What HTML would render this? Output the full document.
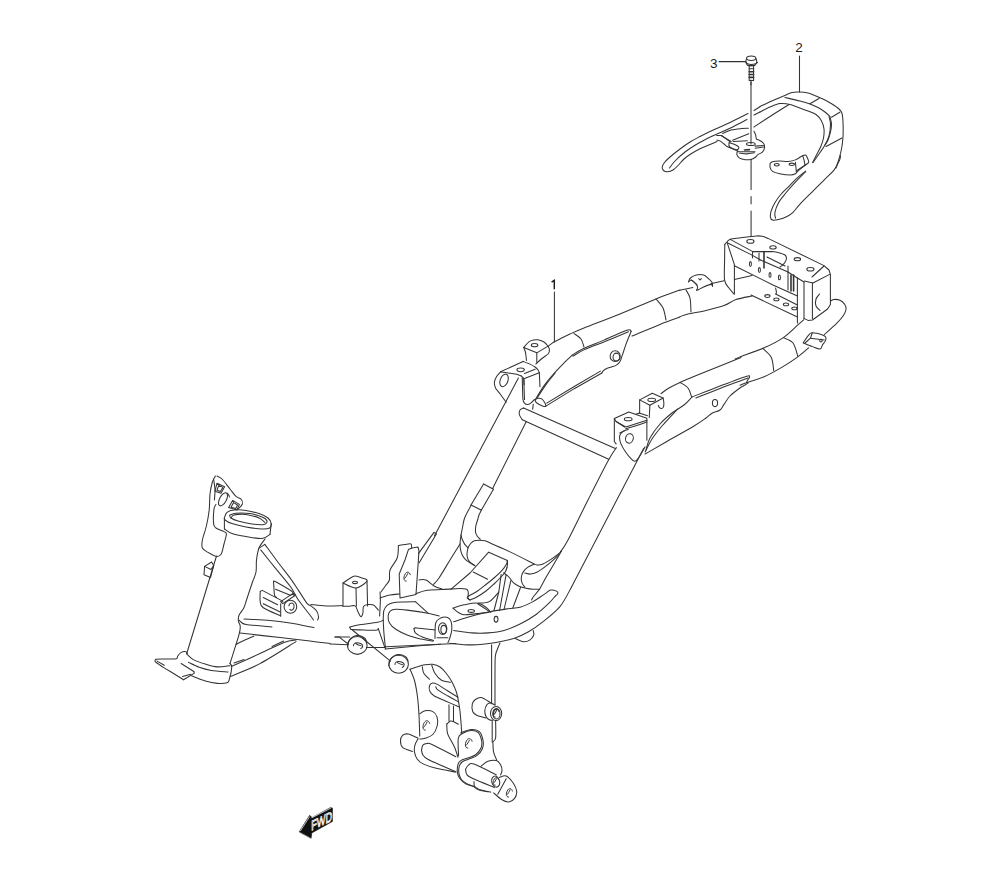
<!DOCTYPE html>
<html><head><meta charset="utf-8"><style>
html,body{margin:0;padding:0;background:#fff;}
body{width:1000px;height:880px;overflow:hidden;}
svg{display:block;}
path,ellipse{fill:none;stroke:#333;stroke-width:1.05;stroke-linejoin:round;stroke-linecap:round;}
.t{stroke-width:1.6;}
.h{stroke-width:0.8;stroke:#555;}
.f{fill:#1c1c1c;}
text{font-family:"Liberation Sans",sans-serif;fill:#1c1c1c;}
</style></head><body>
<svg width="1000" height="880" viewBox="0 0 1000 880">
<path d="M748,113.5C746.67,114.17 743,116 740,117.5C737,119 733.33,120.92 730,122.5C726.67,124.08 723.33,125.5 720,127C716.67,128.5 713.33,129.92 710,131.5C706.67,133.08 703.33,134.75 700,136.5C696.67,138.25 693.33,139.92 690,142C686.67,144.08 683.33,146.5 680,149C676.67,151.5 672.58,154.75 670,157C667.42,159.25 665.8,160.83 664.5,162.5C663.2,164.17 662.37,165.67 662.2,167C662.03,168.33 662.62,169.7 663.5,170.5C664.38,171.3 665.92,171.88 667.5,171.8C669.08,171.72 671.25,171.05 673,170C674.75,168.95 676.17,167.33 678,165.5C679.83,163.67 682,160.83 684,159C686,157.17 687.33,156.2 690,154.5C692.67,152.8 696.67,150.47 700,148.8C703.33,147.13 707.17,145.72 710,144.5C712.83,143.28 715.83,142 717,141.5"/>
<path d="M669.5,168C670.42,166.83 672.42,163.67 675,161C677.58,158.33 681.67,154.63 685,152C688.33,149.37 691.67,147.25 695,145.2C698.33,143.15 701.5,141.48 705,139.7C708.5,137.92 711.83,136.42 716,134.5C720.17,132.58 724.83,130.7 730,128.2C735.17,125.7 744.17,120.95 747,119.5"/>
<path d="M754,110.5L760,106.7"/>
<path d="M754,115L760,112"/>
<path d="M754,127C756.67,125.25 764.17,120.25 770,116.5C775.83,112.75 785.83,106.5 789,104.5"/>
<path d="M751,80L751,144"/>
<path d="M716.69,135.56C717.45,135.56 720.04,135.27 721.27,135.56C722.5,135.86 722.56,136.27 724.08,137.32C725.61,138.38 729.37,141.14 730.42,141.9"/>
<path d="M717.04,140.14C717.51,140.26 718.69,140.2 719.86,140.85C721.03,141.49 722.79,143.02 724.08,144.01C725.38,145.01 725.61,145.77 727.61,146.83C729.6,147.89 734.3,149.62 736.06,150.35C737.82,151.08 737.82,151.06 738.17,151.2"/>
<path d="M720.92,135.56L731.13,141.55"/>
<path d="M729.01,142.96C728.9,143.6 728.43,145.72 729.72,146.83C731.01,147.95 735.23,149.53 736.76,149.65C738.29,149.77 738.87,148.24 738.87,147.54C738.87,146.83 738.17,146.19 736.76,145.42C735.35,144.66 731.71,143.37 730.42,142.96C729.13,142.55 729.13,142.31 729.01,142.96Z"/>
<path d="M737.46,151.06C737.37,151.64 736.55,153.4 736.9,154.58C737.25,155.75 738.19,157.25 739.58,158.1C740.96,158.94 743.33,159.41 745.21,159.65C747.09,159.88 749.2,159.86 750.85,159.51C752.49,159.15 753.9,158.36 755.07,157.54C756.24,156.71 756.71,155.42 757.89,154.58C759.06,153.73 761.06,153.4 762.11,152.46C763.17,151.53 763.87,150.23 764.23,148.94C764.58,147.65 764.58,145.89 764.23,144.72C763.87,143.54 762.93,142.66 762.11,141.9C761.29,141.14 760.23,140.61 759.3,140.14C758.36,139.67 757.09,139.96 756.48,139.08C755.87,138.2 756.04,136.15 755.63,134.86C755.22,133.57 754.28,131.92 754.01,131.34"/>
<path d="M722.68,133.45C724.08,132.89 727.96,130.89 731.13,130.07C734.3,129.25 738.81,128.84 741.69,128.52C744.57,128.2 747.27,128.23 748.38,128.17"/>
<path d="M732.54,140.14L748.73,133.8"/>
<path d="M733.24,141.55L747.32,140.85"/>
<ellipse cx="750.85" cy="144.01" rx="4.37" ry="1.55" transform="rotate(0 750.85 144.01)"/>
<path d="M755.07,146.13L763.52,145.42"/>
<path d="M755.07,148.24L763.52,146.97"/>
<path d="M738.17,151.76L755.07,151.76"/>
<path d="M739.58,153.17C740.75,153.29 744.15,153.93 746.62,153.87C749.08,153.81 753.08,152.99 754.37,152.82"/>
<path class="t" d="M744.51,150L749.44,149.65"/>
<path d="M760,106.5C762.17,105.5 768.83,102.33 773,100.5C777.17,98.67 781.83,96.83 785,95.5C788.17,94.17 789.58,93.08 792,92.5C794.42,91.92 796.83,91.92 799.5,92C802.17,92.08 805.25,92.33 808,93C810.75,93.67 813.33,94.92 816,96C818.67,97.08 821.33,98.17 824,99.5C826.67,100.83 829.5,102.42 832,104C834.5,105.58 837.33,107.42 839,109C840.67,110.58 841.33,111.33 842,113.5C842.67,115.67 842.83,118.08 843,122C843.17,125.92 843.25,132.5 843,137C842.75,141.5 842.17,145.33 841.5,149C840.83,152.67 839.92,155.83 839,159C838.08,162.17 836.5,166.5 836,168"/>
<path d="M785,97.5C787.5,98.08 795.83,99.92 800,101C804.17,102.08 807,102.92 810,104C813,105.08 815.5,106.17 818,107.5C820.5,108.83 823,110.5 825,112C827,113.5 829.17,115.75 830,116.5"/>
<path d="M810,103.8L819,98.5"/>
<path d="M831.5,117.2L839.8,112.2"/>
<path d="M760,112C761.67,111.17 766.67,108.4 770,107C773.33,105.6 776.67,104.02 780,103.6C783.33,103.18 785.83,103.43 790,104.5C794.17,105.57 800.67,108.33 805,110C809.33,111.67 813.25,112.67 816,114.5C818.75,116.33 820.17,118.58 821.5,121C822.83,123.42 823.67,126.17 824,129C824.33,131.83 824,135.17 823.5,138C823,140.83 822.08,143.33 821,146C819.92,148.67 818.42,151.25 817,154C815.58,156.75 813.25,161.08 812.5,162.5"/>
<path d="M829,116.5C829.25,117.75 830.5,120.75 830.5,124C830.5,127.25 829.92,132.5 829,136C828.08,139.5 826.67,142 825,145C823.33,148 821,151.08 819,154C817,156.92 814,161.08 813,162.5"/>
<path d="M830,117C830.25,118.17 831.42,121.5 831.5,124C831.58,126.5 831.08,129.33 830.5,132C829.92,134.67 828.92,137.83 828,140C827.08,142.17 825.5,144.17 825,145"/>
<path d="M826,146.5L842,138"/>
<path d="M719,61.6L745.8,61.6"/>
<ellipse cx="751.2" cy="58.2" rx="4.6" ry="2.2" transform="rotate(0 751.2 58.2)"/>
<path d="M746.4,58.6C746.32,59.17 745.79,60.97 745.92,62C746.05,63.03 746.32,64.13 747.2,64.8C748.08,65.47 749.87,66 751.2,66C752.53,66 754.28,65.47 755.2,64.8C756.12,64.13 756.59,63.03 756.72,62C756.85,60.97 756.12,59.17 756,58.6"/>
<path d="M745.8,62C746.1,62.3 746.7,63.4 747.6,63.8C748.5,64.2 749.87,64.4 751.2,64.4C752.53,64.4 754.53,64.13 755.6,63.8C756.67,63.47 757.27,62.63 757.6,62.4"/>
<path d="M747.6,65.4L754.8,65.4"/>
<path d="M749.2,66L749.2,80.4L753.6,80.4L753.6,66"/>
<path d="M749.2,68.8L753.6,68.8"/>
<path class="t" d="M749.2,71.8L753.6,71.8"/>
<path class="t" d="M749.2,74.48L753.6,74.48"/>
<path class="t" d="M749.2,77.4L753.6,77.4"/>
<path d="M751,82L751,85"/>
<path d="M799.5,56L799.5,92"/>
<path d="M724.8,244.4C725.7,243.53 727.5,240.3 730.2,239.2C732.9,238.1 736.67,238.33 741,237.8C745.33,237.27 752.67,236.27 756.2,236C759.73,235.73 760.23,235.8 762.2,236.2C764.17,236.6 767.03,238.03 768,238.4"/>
<path d="M768,238.4L824,265.6L829,270L830.4,274.4L830.4,304.4L827.6,309L818,316L812.4,320L808,320.4L804,318.4"/>
<path d="M730.2,239.4L752.8,251.6L772.4,251.6"/>
<path d="M727.2,242.8L752.6,255.4L761,260.2"/>
<path d="M761,260.2L788,272"/>
<path d="M724.8,244.4C724.77,247 724.63,254.03 724.6,260C724.57,265.97 723.87,275.53 724.6,280.2C725.33,284.87 727.43,285.7 729,288C730.57,290.3 733.17,293 734,294"/>
<path d="M727.2,242.8L734.4,264.6L734.4,294"/>
<path d="M734.4,265.8L773,285L797.4,296"/>
<path d="M734.4,279.6L752,275.4"/>
<path d="M752.6,251.6C752.57,252.17 752.4,253.93 752.4,255C752.4,256.07 752.57,257.5 752.6,258"/>
<path d="M771,251.4C772.17,251.57 775.67,251.8 778,252.4C780.33,253 783.6,253.9 785,255C786.4,256.1 786.57,257.57 786.4,259C786.23,260.43 785.07,262.27 784,263.6C782.93,264.93 780.67,266.43 780,267"/>
<path d="M759,253L759,261"/>
<path class="t" d="M764,252.4L764,268"/>
<path d="M767,257L785,266"/>
<path d="M788,266L788,290"/>
<path class="t" d="M791,275L791,291"/>
<path class="t" d="M793.6,275L793.6,291"/>
<path d="M797.4,278L797.4,323"/>
<path d="M804,282L804,318.4"/>
<path d="M812.4,283L812.4,318.4"/>
<path d="M804.4,281L813,283L829.6,274.4"/>
<path d="M797.4,278L804,282"/>
<path d="M788,272L797.4,278"/>
<path d="M751,295L797.4,317"/>
<path d="M775.6,294L797.4,305"/>
<path d="M775.6,288C775.73,288.67 776.33,291 776.4,292C776.47,293 776.07,293.67 776,294"/>
<path d="M812,277L824,266"/>
<ellipse cx="750.4" cy="241.4" rx="3.6" ry="1.8" transform="rotate(0 750.4 241.4)"/>
<ellipse cx="773" cy="247.4" rx="3.2" ry="1.6" transform="rotate(0 773 247.4)"/>
<ellipse cx="797.4" cy="259.2" rx="3.2" ry="1.6" transform="rotate(0 797.4 259.2)"/>
<ellipse cx="810.4" cy="269.2" rx="3.6" ry="1.8" transform="rotate(0 810.4 269.2)"/>
<ellipse cx="750.4" cy="264" rx="1" ry="2.4" transform="rotate(0 750.4 264)"/>
<ellipse cx="759.4" cy="270" rx="1" ry="2.4" transform="rotate(0 759.4 270)"/>
<ellipse cx="770" cy="275" rx="1" ry="2.4" transform="rotate(0 770 275)"/>
<ellipse cx="779.4" cy="277.4" rx="1" ry="2.4" transform="rotate(0 779.4 277.4)"/>
<ellipse cx="767.4" cy="296" rx="2.6" ry="1.4" transform="rotate(0 767.4 296)"/>
<ellipse cx="776.4" cy="299.4" rx="2.6" ry="1.4" transform="rotate(0 776.4 299.4)"/>
<ellipse cx="786" cy="304.4" rx="2.6" ry="1.4" transform="rotate(0 786 304.4)"/>
<ellipse cx="794.4" cy="308.4" rx="2.6" ry="1.4" transform="rotate(0 794.4 308.4)"/>
<path d="M819.6,294C819,294.83 816.6,297 816,299C815.4,301 815.33,304.1 816,306C816.67,307.9 819.33,309.67 820,310.4"/>
<path d="M554.4,292L554.4,342"/>
<path d="M680,290C676,291.5 666,295 656,299C646,303 632,309.17 620,314C608,318.83 592.33,324.67 584,328C575.67,331.33 574,332.17 570,334C566,335.83 562.67,337.67 560,339C557.33,340.33 555.83,340.9 554,342C552.17,343.1 549.83,345 549,345.6"/>
<path d="M680,317C676.67,318.23 668,321.23 660,324.4C652,327.57 636.67,334.07 632,336"/>
<path d="M656,299C657.17,300.5 661.33,304.5 663,308C664.67,311.5 665.5,318 666,320"/>
<path d="M574,333.6C575.17,334.5 579.33,336.77 581,339C582.67,341.23 583.5,345.67 584,347"/>
<path d="M741,357.6C737.5,359 726.83,363.27 720,366C713.17,368.73 706.67,371.27 700,374C693.33,376.73 685.17,380.07 680,382.4C674.83,384.73 672.17,386.13 669,388C665.83,389.87 662.33,392.67 661,393.6"/>
<path d="M680,382.4C681.33,383.33 686.07,385.57 688,388C689.93,390.43 691,395.5 691.6,397"/>
<path d="M645,454C645.5,453.73 644.5,454.4 648,452.4C651.5,450.4 658.33,446.4 666,442C673.67,437.6 687.33,430 694,426C700.67,422 703,420.13 706,418C709,415.87 709.67,414.53 712,413.2C714.33,411.87 718,411.47 720,410C722,408.53 722.33,406.73 724,404.4C725.67,402.07 727.33,398.73 730,396C732.67,393.27 737.5,389.83 740,388C742.5,386.17 743.67,385.83 745,385C746.33,384.17 747.5,383.33 748,383"/>
<path d="M692,397C696.67,395.17 711,389.43 720,386C729,382.57 741.07,377.93 746,376.4C750.93,374.87 749.27,376.27 749.6,376.8C749.93,377.33 748.53,378.67 748,379.6C747.47,380.53 746.67,381.93 746.4,382.4"/>
<path d="M646,450C646.67,448 647.67,442.33 650,438C652.33,433.67 656.33,428.17 660,424C663.67,419.83 668,416.17 672,413C676,409.83 680.67,407.67 684,405C687.33,402.33 690.67,398.33 692,397"/>
<path d="M696,398C700,396.4 712.67,391.23 720,388.4C727.33,385.57 735.33,382.73 740,381C744.67,379.27 746.67,378.5 748,378"/>
<path d="M645.2,452C646.33,449.83 649.2,443.33 652,439C654.8,434.67 657.73,431 662,426C666.27,421 675,411.83 677.6,409"/>
<ellipse cx="715" cy="403" rx="2.6" ry="3.6" transform="rotate(0 715 403)"/>
<path d="M686,290C686.67,291.33 689.17,294.33 690,298C690.83,301.67 690.83,309.67 691,312"/>
<path d="M735.18,358.92C735.98,358.57 735.18,358.71 740,356.87C744.82,355.02 756.87,351.04 764.1,347.83C771.33,344.62 777.75,341.41 783.37,337.59C789,333.78 794.42,327.95 797.83,324.94C801.24,321.93 802.85,320.42 803.86,319.52"/>
<path d="M740,385.18C740.8,384.88 740.8,384.78 744.82,383.37C748.84,381.97 757.87,379.46 764.1,376.75C770.32,374.04 776.55,370.42 782.17,367.11C787.79,363.8 793.41,360.08 797.83,356.87C802.25,353.65 806.87,349.34 808.67,347.83"/>
<path d="M824.34,334.58C826.35,332.77 833.17,326.95 836.39,323.73C839.6,320.52 842.01,317.71 843.61,315.3C845.22,312.89 845.82,311.08 846.02,309.28C846.22,307.47 845.82,305.96 844.82,304.46C843.82,302.95 841.81,301.08 840,300.24C838.19,299.4 835.48,299.3 833.98,299.4C832.47,299.5 831.47,300.6 830.96,300.84"/>
<path d="M762.89,348.43C764.3,349.94 769.52,353.76 771.33,357.47C773.13,361.18 773.33,368.51 773.73,370.72"/>
<path d="M783.37,337.59C784.98,338.49 790.6,339.9 793.01,343.01C795.42,346.12 797.03,354.06 797.83,356.27"/>
<path d="M803.25,342.65C804.16,341.41 807.17,336.83 808.67,335.18C810.18,333.53 809.88,332.77 812.29,332.77C814.7,332.77 820.88,334.44 823.13,335.18C825.38,335.92 825.38,336.33 825.78,337.23C826.18,338.13 826.08,339.34 825.54,340.6C825,341.87 823.43,343.41 822.53,344.82C821.63,346.22 821.83,348.73 820.12,349.04C818.41,349.34 815.1,347.63 812.29,346.63C809.48,345.62 804.76,343.61 803.25,343.01"/>
<path d="M812.29,332.77L810.48,338.19L805.06,343.01"/>
<path d="M810.48,338.19L824.34,340"/>
<ellipse cx="820.96" cy="340.6" rx="1.2" ry="1.45" transform="rotate(0 820.96 340.6)"/>
<path d="M224.4,517.6C224.83,516.73 225.4,513.67 227,512.4C228.6,511.13 230.83,510.33 234,510C237.17,509.67 241.83,509.8 246,510.4C250.17,511 255.33,512.33 259,513.6C262.67,514.87 265.97,516.33 268,518C270.03,519.67 270.93,521.93 271.2,523.6C271.47,525.27 271.13,527.1 269.6,528C268.07,528.9 265.93,529.17 262,529C258.07,528.83 251,527.9 246,527C241,526.1 235.5,524.77 232,523.6C228.5,522.43 226.27,521 225,520C223.73,519 224.5,518 224.4,517.6"/>
<path d="M229.6,515.2C230.67,514.87 232.6,513.47 236,513.2C239.4,512.93 245.67,512.97 250,513.6C254.33,514.23 259.17,515.77 262,517C264.83,518.23 266.67,519.77 267,521C267.33,522.23 266.5,523.9 264,524.4C261.5,524.9 256.33,524.57 252,524C247.67,523.43 241.5,522 238,521C234.5,520 232.4,518.97 231,518C229.6,517.03 229.83,515.67 229.6,515.2"/>
<path d="M231,518C231.5,517.5 231.5,515.6 234,515C236.5,514.4 241.83,513.9 246,514.4C250.17,514.9 255.83,516.67 259,518C262.17,519.33 264,521.67 265,522.4"/>
<path d="M224.4,518L224.4,529"/>
<path d="M271.2,523.6L270,534.4"/>
<path d="M224.4,529C225.67,529.77 228.4,532.33 232,533.6C235.6,534.87 241,535.8 246,536.6C251,537.4 258,538.77 262,538.4C266,538.03 268.67,535.07 270,534.4"/>
<path d="M215.4,476C214.9,477 213.3,479 212.4,482C211.5,485 210.53,489.33 210,494C209.47,498.67 209.8,504.67 209.2,510C208.6,515.33 207.53,521 206.4,526C205.27,531 203.07,536.33 202.4,540C201.73,543.67 201.47,545.93 202.4,548C203.33,550.07 205.67,551 208,552.4C210.33,553.8 214.2,556.13 216.4,556.4C218.6,556.67 219.93,556.07 221.2,554C222.47,551.93 223.13,547.33 224,544C224.87,540.67 226.4,536.07 226.4,534C226.4,531.93 225.73,532.6 224,531.6C222.27,530.6 217.73,529.33 216,528C214.27,526.67 213.93,526.77 213.6,523.6C213.27,520.43 213.6,512.2 214,509C214.4,505.8 215.67,505.17 216,504.4"/>
<path d="M217,476C217.83,476.5 219.83,476.83 222,479C224.17,481.17 227.67,486.1 230,489C232.33,491.9 234.17,494.73 236,496.4C237.83,498.07 239.93,497.73 241,499C242.07,500.27 242.9,502.33 242.4,504C241.9,505.67 238.73,508.17 238,509"/>
<path d="M213.6,479C213.83,480.83 214.87,486.5 215,490C215.13,493.5 214.5,498.33 214.4,500"/>
<path d="M244,619C248.33,619.23 262.33,619.73 270,620.4C277.67,621.07 282.67,621.8 290,623C297.33,624.2 310,626.83 314,627.6"/>
<path d="M311,604.4C313.5,604.67 320.77,605.8 326,606C331.23,606.2 339.67,605.67 342.4,605.6"/>
<path d="M483.6,484L493,489"/>
<path d="M483.6,484L471,505"/>
<path d="M471,505L481,510"/>
<path d="M460,544C458.33,546.67 453.5,554.33 450,560C446.5,565.67 441.73,573.93 439,578C436.27,582.07 434.5,583.33 433.6,584.4"/>
<path d="M398.4,545.6C399.5,545.4 402.9,544.67 405,544.4C407.1,544.13 409.9,543.4 411,544C412.1,544.6 411.5,547.33 411.6,548"/>
<path d="M398.4,545.6C398.2,547.67 398.6,553.93 397.2,558C395.8,562.07 391.3,566.33 390,570C388.7,573.67 390.07,577.5 389.4,580C388.73,582.5 387.4,583 386,585C384.6,587 381.83,590.83 381,592"/>
<path d="M399.2,574L400,598L416,594.4L419,551L418,547L412,548L408.4,549.6L405,560L399.2,574"/>
<path d="M343,583C344,582.33 347,580.17 349,579C351,577.83 352.83,576.17 355,576C357.17,575.83 360,577.17 362,578C364,578.83 368,579.33 367,581C366,582.67 360,587.67 356,588C352,588.33 345.17,583.83 343,583"/>
<path d="M343,583L343,605.6"/>
<path d="M356,588L356.4,606"/>
<path d="M367,581L367.6,606"/>
<ellipse cx="355" cy="582.4" rx="2.4" ry="1.2" transform="rotate(0 355 582.4)"/>
<path d="M380,592C380.07,593.33 380.47,596 380.4,600C380.33,604 379.73,613.33 379.6,616"/>
<path d="M380,598C381.67,597.5 386.73,595.67 390,595C393.27,594.33 398,594.17 399.6,594"/>
<path d="M416,593.6C417.67,593.07 421.67,591.07 426,590.4C430.33,589.73 435.33,589.83 442,589.6C448.67,589.37 461.67,587.6 466,589C470.33,590.4 467.33,596.17 468,598C468.67,599.83 469.67,599.67 470,600"/>
<path d="M419,580C420.17,580 423.5,579 426,580C428.5,581 431.33,584.5 434,586C436.67,587.5 440.67,588.5 442,589"/>
<path d="M616.4,447.6C615,449.83 612.73,452.27 608,461C603.27,469.73 594.67,486.83 588,500C581.33,513.17 572.6,531.33 568,540C563.4,548.67 561.67,550 560.4,552"/>
<path d="M453.61,621.66C456.68,620.72 466.29,617.66 472.03,616.05C477.77,614.45 482.17,613.25 488.05,612.05C493.92,610.85 501.93,609.65 507.26,608.85C512.6,608.05 515.81,608.45 520.08,607.25C524.35,606.04 528.89,603.78 532.89,601.64C536.89,599.5 541.16,596.35 544.1,594.43C547.04,592.51 548.37,590.62 550.51,590.11C552.64,589.6 555.71,590.8 556.91,591.39C558.11,591.98 557.98,592.86 557.71,593.63C557.45,594.41 555.71,595.63 555.31,596.03"/>
<path d="M453.61,630.47C456.68,630.87 466.29,632.47 472.03,632.87C477.77,633.27 482.71,633.27 488.05,632.87C493.38,632.47 498.72,631.94 504.06,630.47C509.4,629 514.74,626.73 520.08,624.06C525.42,621.39 531.29,617.92 536.09,614.45C540.9,610.98 545.7,606.31 548.9,603.24C552.11,600.17 554.24,597.24 555.31,596.03"/>
<path d="M449.61,643.28C453.35,643.55 464.29,645.01 472.03,644.88C479.77,644.75 489.11,643.55 496.05,642.48C502.99,641.41 508.33,640.21 513.67,638.48C519.01,636.74 523.01,635.01 528.08,632.07C533.16,629.13 538.76,625.13 544.1,620.86C549.44,616.59 555.56,612.05 560.12,606.44C564.67,600.84 569.52,590.43 571.41,587.23"/>
<path d="M452.81,608.05C454.68,607.51 459.75,605.64 464.02,604.84C468.29,604.04 474.17,602.17 478.44,603.24C482.71,604.31 489.38,609.59 489.65,611.25C489.91,612.9 484.58,612.64 480.04,613.17C475.5,613.7 466.96,615.31 462.42,614.45C457.88,613.6 454.41,609.11 452.81,608.05"/>
<ellipse cx="471.23" cy="610.93" rx="3.2" ry="1.44" transform="rotate(0 471.23 610.93)"/>
<ellipse cx="496.05" cy="619.26" rx="1.92" ry="2.88" transform="rotate(0 496.05 619.26)"/>
<path d="M515.27,638.48C516.61,639.01 520.88,641.41 523.28,641.68C525.68,641.95 527.95,641.14 529.69,640.08C531.42,639.01 533.1,636.87 533.69,635.27C534.28,633.67 533.29,631.27 533.21,630.47"/>
<path d="M240,633C246.67,633.77 268.33,636.27 280,637.6C291.67,638.93 301.67,640 310,641C318.33,642 326.67,643.17 330,643.6"/>
<path d="M231.2,666.4C236,664.27 251.2,657.6 260,653.6C268.8,649.6 278,644.67 284,642.4C290,640.13 294,640.4 296,640"/>
<path d="M230.4,676.4C235.33,674.27 249.07,669.4 260,663.6C270.93,657.8 290,645.27 296,641.6"/>
<path d="M236,644.4C237.33,643.73 241,641.8 244,640.4C247,639 252.33,636.73 254,636"/>
<path d="M234,663L244,659.6"/>
<path d="M272,646.4L283.6,641"/>
<path d="M239,620C239.33,620.33 239.83,621.27 241,622C242.17,622.73 240.83,623.57 246,624.4C251.17,625.23 267.67,626.57 272,627"/>
<path d="M335,637L340,637"/>
<path d="M840.6,155.66C840.4,156.47 840.5,158.07 839.4,160.48C838.29,162.89 836.49,166.91 833.98,170.12C831.47,173.33 827.95,176.14 824.34,179.76C820.72,183.37 816.31,187.79 812.29,191.81C808.27,195.82 803.45,200.44 800.24,203.86C797.03,207.27 795.22,210.18 793.01,212.29C790.8,214.4 789.4,215.3 786.99,216.51C784.58,217.71 780.96,218.92 778.55,219.52C776.14,220.12 773.9,220.52 772.53,220.12C771.16,219.72 770.6,218.61 770.36,217.11C770.12,215.6 770.32,213.49 771.08,211.08C771.85,208.67 773.29,205.46 774.94,202.65C776.59,199.84 778.55,197.03 780.96,194.22C783.37,191.41 786.59,188.59 789.4,185.78C792.21,182.97 795.12,179.8 797.83,177.35C800.54,174.9 804.36,172.13 805.66,171.08"/>
<path d="M775.54,218.31C775.44,217.31 774.44,214.9 774.94,212.29C775.44,209.68 776.75,205.86 778.55,202.65C780.36,199.44 783.17,196.22 785.78,193.01C788.39,189.8 790.9,186.95 794.22,183.37C797.53,179.8 803.76,173.53 805.66,171.57"/>
<path d="M770.12,163.49C770.52,163.19 770.92,162.09 772.53,161.69C774.14,161.29 777.15,161.12 779.76,161.08C782.37,161.04 785.58,161.65 788.19,161.45C790.8,161.24 793.01,160.84 795.42,159.88C797.83,158.92 800.94,156.47 802.65,155.66C804.36,154.86 804.86,154.66 805.66,155.06C806.47,155.46 806.97,156.87 807.47,158.07C807.97,159.28 809.08,161.08 808.67,162.29C808.27,163.49 806.87,163.84 805.06,165.3C803.25,166.77 799.44,169.68 797.83,171.08C796.22,172.49 796.63,173.09 795.42,173.73C794.22,174.38 793.21,174.94 790.6,174.94C787.99,174.94 782.77,174.34 779.76,173.73C776.75,173.13 774.14,172.33 772.53,171.33C770.92,170.32 770.52,169.02 770.12,167.71C769.72,166.41 770.12,164.2 770.12,163.49"/>
<ellipse cx="776.75" cy="164.7" rx="2.41" ry="1.2" transform="rotate(0 776.75 164.7)"/>
<ellipse cx="791.81" cy="164.34" rx="2.65" ry="1.2" transform="rotate(0 791.81 164.34)"/>
<path d="M795.42,162.29L796.39,172.53"/>
<path d="M796.63,170.72L805.66,164.7"/>
<path d="M802.65,155.66C802.85,156.27 803.45,157.67 803.86,159.28C804.26,160.88 804.86,164.3 805.06,165.3"/>
<path d="M751.08,159.28L751.08,189.4"/>
<path d="M751.08,196.63L751.08,203.86"/>
<path d="M751.08,211.08L751.08,236.39"/>
<path d="M615.3,448.4L523.6,408"/>
<path d="M523.6,408C523,408.33 520.72,408.92 520,410C519.28,411.08 518.92,412.87 519.3,414.5C519.68,416.13 521.8,418.92 522.3,419.8"/>
<path d="M522.3,419.8L608.7,459.3"/>
<path d="M518.4,378L434.4,536"/>
<path d="M526.3,421.5L492.6,488.5"/>
<path d="M493.6,489.1L481.3,510.2"/>
<path d="M481.3,510.2C480.92,511 479.62,513.37 479,515C478.38,516.63 478.13,518.17 477.6,520C477.07,521.83 476.15,524 475.8,526C475.45,528 475.25,530.28 475.5,532C475.75,533.72 476.5,535.08 477.3,536.3C478.1,537.52 479.8,538.8 480.3,539.3"/>
<path d="M470.9,505.5C470.08,507.08 467.15,512.58 466,515C464.85,517.42 464.63,517.67 464,520C463.37,522.33 462.7,526.5 462.2,529C461.7,531.5 461.35,532.68 461,535C460.65,537.32 460.2,540.58 460.1,542.9C460,545.22 460.05,546.88 460.4,548.9C460.75,550.92 461.3,553.18 462.2,555C463.1,556.82 464.5,558.5 465.8,559.8C467.1,561.1 468.48,561.8 470,562.8C471.52,563.8 474.08,565.3 474.9,565.8"/>
<path d="M461,535C461.2,535.72 461.6,537.78 462.2,539.3C462.8,540.82 463.63,542.7 464.6,544.1C465.57,545.5 467.43,547.1 468,547.7"/>
<path d="M468,547.7C467.83,548.7 467.05,551.88 467,553.7C466.95,555.52 467.2,557.18 467.7,558.6C468.2,560.02 468.9,561.1 470,562.2C471.1,563.3 473.58,564.7 474.3,565.2"/>
<path d="M468,547.7C468.45,547 469.65,544.65 470.7,543.5C471.75,542.35 472.9,541.35 474.3,540.8C475.7,540.25 477.3,540.2 479.1,540.2C480.9,540.2 483.1,540.25 485.1,540.8C487.1,541.35 486.95,541.65 491.1,543.5C495.25,545.35 502.85,548.5 510,551.9C517.15,555.3 530,561.9 534,563.9"/>
<path d="M534,564.2C532.93,564.73 529.37,566.17 527.6,567.4C525.83,568.63 524.45,569.95 523.4,571.6C522.35,573.25 521.53,575.42 521.3,577.3C521.07,579.18 521.42,581.27 522,582.9C522.58,584.53 524.33,586.4 524.8,587.1"/>
<path d="M534,563.9C534.47,564.07 535.52,564.78 536.8,564.9C538.08,565.02 539.6,565.35 541.7,564.6C543.8,563.85 546.93,561.93 549.4,560.4C551.87,558.87 554.5,556.93 556.5,555.4C558.5,553.87 560.58,551.9 561.4,551.2"/>
<path d="M524.8,573C525.73,573.18 528.4,574.22 530.4,574.1C532.4,573.98 534.33,573.53 536.8,572.3C539.27,571.07 542.38,568.82 545.2,566.7C548.02,564.58 551.35,561.72 553.7,559.6C556.05,557.48 558.37,554.93 559.3,554"/>
<path d="M561.4,551.2L552.3,566.7L545.2,578.7L539.6,589.2L533.2,597L531.5,600"/>
<path d="M503.6,572.8C504.4,573.42 506.78,574.87 508.4,576.5C510.02,578.13 511.53,580.98 513.3,582.6C515.07,584.22 516.88,585.25 519,586.2C521.12,587.15 523.67,587.78 526,588.3C528.33,588.82 530.73,589.15 533,589.3C535.27,589.45 538.5,589.22 539.6,589.2"/>
<path d="M488.7,552.2L507.4,560.4"/>
<path d="M507.4,560.4C507.42,561 507.57,562.82 507.5,564C507.43,565.18 507.08,566.92 507,567.5"/>
<path d="M507.2,561C507.08,561.5 507.37,562.43 506.5,564C505.63,565.57 504.08,568.07 502,570.4C499.92,572.73 496.67,575.65 494,578C491.33,580.35 489,582.17 486,584.5C483,586.83 478.92,590.08 476,592C473.08,593.92 469.75,595.33 468.5,596"/>
<path d="M507,567.5C506.75,568.17 506.33,570.08 505.5,571.5C504.67,572.92 503.92,573.92 502,576C500.08,578.08 496.67,581.5 494,584C491.33,586.5 489,588.75 486,591C483,593.25 478.67,596 476,597.5C473.33,599 471,599.58 470,600"/>
<path d="M468.5,596C468.28,596.33 466.95,597.33 467.2,598C467.45,598.67 469.53,599.67 470,600"/>
<path d="M488.7,552.2L470,573L450.8,589.3"/>
<path d="M473.2,572L487.6,579.2"/>
<path d="M501.2,574.4L498.8,592L494,610.5"/>
<path d="M506,575.2L499.6,610.5"/>
<path d="M510.8,580.8L504,609.5"/>
<path d="M520.5,587.5L512.8,608"/>
<path d="M478,603.2C479.87,602.93 485.73,603.47 489.2,601.6C492.67,599.73 497.2,593.6 498.8,592"/>
<path d="M478,604L490.8,612.4"/>
<path d="M571.4,587.2L643.6,448.4"/>
<path d="M639.64,399.88L652.29,393.25L663.13,398.07L649.88,405.3Z"/>
<ellipse cx="651.69" cy="399.88" rx="3.86" ry="1.57" transform="rotate(0 651.69 399.88)"/>
<path d="M639.64,399.88L639.64,413.13"/>
<path d="M649.88,405.3L649.28,417.59"/>
<path d="M663.13,398.07C663.25,398.88 663.82,401.39 663.86,402.89C663.9,404.4 663.73,406.18 663.37,407.11C663.01,408.03 662.33,408.33 661.69,408.43C661.04,408.53 660.08,408.19 659.52,407.71C658.96,407.23 658.51,405.9 658.31,405.54"/>
<path d="M636.02,414.34L639.28,413.01"/>
<path d="M639.28,413.01L647.47,415.66"/>
<path d="M614.34,418.55L628.8,411.93L646.87,418.31L646.87,420.36L625.78,426.99L616.14,421.57L614.34,418.55"/>
<path d="M616.14,421.57L624.58,426.99"/>
<path d="M625.78,428.8C627.59,428.25 633.11,426.69 636.63,425.54C640.14,424.4 645.16,422.53 646.87,421.93"/>
<path d="M614.34,418.55L614.34,441.45L616.14,443.86"/>
<path d="M646.87,420.36L646.87,440.24"/>
<path d="M628.19,429.4C627.39,429.7 624.68,430.4 623.37,431.2C622.07,432.01 621,433.11 620.36,434.22C619.72,435.32 619.42,436.22 619.52,437.83C619.62,439.44 619.92,441.45 620.96,443.86C622.01,446.27 624.08,449.78 625.78,452.29C627.49,454.8 629.7,457.41 631.2,458.92C632.71,460.42 633.71,461.33 634.82,461.33C635.92,461.33 636.53,460.62 637.83,458.92C639.14,457.21 641.45,453.09 642.65,451.08C643.86,449.08 644.66,447.57 645.06,446.87"/>
<ellipse cx="629.4" cy="438.43" rx="3.86" ry="4.82" transform="rotate(15 629.4 438.43)"/>
<ellipse cx="628.19" cy="419.16" rx="3.86" ry="1.57" transform="rotate(0 628.19 419.16)"/>
<path d="M624.82,430.6L619.76,433.01"/>
<path d="M523.75,347.45L536.8,352.85L548.06,346.1"/>
<path d="M523.75,347.45C524.28,346.85 525.78,344.95 526.9,343.85C528.03,342.76 528.7,341.56 530.5,340.88C532.3,340.21 535.45,339.61 537.7,339.8C539.95,340 542.28,341 544.01,342.05C545.73,343.1 547.38,345.43 548.06,346.1"/>
<ellipse cx="534.55" cy="345.2" rx="3.24" ry="1.62" transform="rotate(0 534.55 345.2)"/>
<path d="M523.75,347.45C524.01,348.13 524.91,350.08 525.28,351.5C525.66,352.93 525.81,354.5 526,356C526.2,357.5 526.38,359.75 526.45,360.5"/>
<path d="M536.8,352.85L536.8,362.3"/>
<path d="M548.06,346.1C548.28,346.7 549.36,348.43 549.41,349.7C549.45,350.98 549.53,352.33 548.33,353.75C547.13,355.18 544.28,356.56 542.21,358.25C540.14,359.95 536.95,362.98 535.9,363.92"/>
<path d="M204.6,566.4L211.6,562L213.7,565.5L210.5,577.6L204,574.8Z"/>
<path d="M204.6,566.4L211,569.5L213.7,565.5"/>
<path d="M264.83,544.32C266.97,547.22 273.27,555.92 277.62,561.71C281.97,567.51 287.34,574.16 290.92,579.1C294.5,584.05 296.38,587.29 299.1,591.38C301.83,595.47 305.24,601.18 307.29,603.66C309.34,606.13 309.85,605.02 311.38,606.21C312.92,607.41 315.3,609.03 316.5,610.82C317.69,612.61 318.37,615.42 318.54,616.96C318.71,618.49 317.69,619.51 317.52,620.03"/>
<path d="M260.74,549.95C263.21,553.02 270.55,562.14 275.58,568.36C280.61,574.59 287.17,582.09 290.92,587.29C294.67,592.49 294.67,594.62 298.08,599.57C301.49,604.51 308.82,613.55 311.38,616.96C313.94,620.37 313.09,619.51 313.43,620.03"/>
<path d="M258.7,548.41L264.83,544.32"/>
<path d="M273.53,582.17C273.7,582 272.85,580.47 274.55,581.15C276.26,581.83 280.86,584.56 283.76,586.27C286.66,587.97 290.24,589.85 291.94,591.38C293.65,592.92 293.65,594.79 293.99,595.47"/>
<path d="M273.53,582.17C273.61,583.37 273.87,587.12 274.04,589.34C274.21,591.55 274.13,594.11 274.55,595.47C274.98,596.84 276.26,597.18 276.6,597.52"/>
<path d="M275.58,589.34L290.92,595.47"/>
<path d="M260.23,591.38L262.28,590.36L281.71,600.59L282.74,601.61"/>
<path d="M260.23,591.38C260.23,593.09 259.72,598.88 260.23,601.61C260.74,604.34 259.89,605.36 263.3,607.75C266.71,610.14 277.79,614.57 280.69,615.93"/>
<path d="M263.3,597.52L277.62,604.68"/>
<path d="M263.3,603.66L279.67,611.84"/>
<path d="M280.69,601.61L292.97,593.43L295.01,595.47L282.74,603.66L280.69,601.61"/>
<path d="M280.69,603.66L280.69,615.93"/>
<ellipse cx="290.41" cy="606.73" rx="6.34" ry="6.55" transform="rotate(0 290.41 606.73)"/>
<path d="M288.87,605.7C289.05,605.36 289.3,604.08 289.9,603.66C290.49,603.23 291.77,602.89 292.46,603.15C293.14,603.4 293.82,604.25 293.99,605.19C294.16,606.13 293.9,607.92 293.48,608.77C293.05,609.62 292.03,610.22 291.43,610.31C290.84,610.39 290.15,609.45 289.9,609.28"/>
<path d="M410,669.25C410.75,671.12 413.25,675.88 414.5,680.5C415.75,685.12 416.75,691.25 417.5,697C418.25,702.75 418.62,708.5 419,715C419.38,721.5 419.62,732.5 419.75,736"/>
<path d="M410,669.25C411.25,668.83 415,667.45 417.5,666.7C420,665.95 422.5,665.15 425,664.75C427.5,664.35 430,663.92 432.5,664.3C435,664.67 437.75,665.55 440,667C442.25,668.45 444,670.5 446,673C448,675.5 450.25,678.75 452,682C453.75,685.25 455.25,688.25 456.5,692.5C457.75,696.75 458.75,702.5 459.5,707.5C460.25,712.5 460.62,718.12 461,722.5C461.38,726.88 461.62,731.88 461.75,733.75"/>
<path d="M422.3,666.7C422.55,667.8 422.6,671.2 423.8,673.3C425,675.4 428.55,678.3 429.5,679.3"/>
<path d="M431.75,665.2C432.25,666.5 433.12,670.5 434.75,673C436.38,675.5 438.88,678.65 441.5,680.2C444.12,681.75 449,681.95 450.5,682.3"/>
<path d="M458.75,706.75C456.62,705.83 450.12,703.03 446,701.2C441.88,699.38 436.7,697.45 434,695.8C431.3,694.15 430.55,692.97 429.8,691.3C429.05,689.62 429.05,687.12 429.5,685.75C429.95,684.38 431.2,683.27 432.5,683.05C433.8,682.82 434.8,683.12 437.3,684.4C439.8,685.67 444.05,688.55 447.5,690.7C450.95,692.85 456.25,696.2 458,697.3"/>
<path d="M458.3,701.8C456.5,700.8 450.93,697.8 447.5,695.8C444.07,693.8 439.7,691.3 437.75,689.8C435.8,688.3 436.12,687.3 435.8,686.8"/>
<path d="M449,704.8L449,721"/>
<path d="M453.5,706L453.5,721.3"/>
<path d="M419.75,713.8C420.62,713.3 422.88,711.2 425,710.8C427.12,710.4 430.5,710.4 432.5,711.4C434.5,712.4 436.2,714.45 437,716.8C437.8,719.15 438,722.55 437.3,725.5C436.6,728.45 434.85,732.38 432.8,734.5C430.75,736.62 427.18,737.5 425,738.25C422.82,739 420.62,738.88 419.75,739"/>
<path d="M446.75,724C447.38,723.5 449.32,721.38 450.5,721C451.68,720.62 452.5,721.2 453.8,721.75C455.1,722.3 457.55,723.88 458.3,724.3"/>
<path d="M446.75,724C446.88,725.55 446.62,730.25 447.5,733.3C448.38,736.35 450.75,739.8 452,742.3C453.25,744.8 454,745.8 455,748.3C456,750.8 457.5,755.8 458,757.3"/>
<path d="M418,738.2C416.37,737.5 410.77,734.47 408.2,734C405.63,733.53 403.88,734.23 402.6,735.4C401.32,736.57 400.5,739.02 400.5,741C400.5,742.98 400.62,745.55 402.6,747.3C404.58,749.05 410.77,750.8 412.4,751.5"/>
<path d="M418,738.9C417.49,739.95 415.5,742.98 414.92,745.2C414.34,747.42 414.1,749.87 414.5,752.2C414.9,754.53 415.78,757.22 417.3,759.2C418.82,761.18 420.45,762.58 423.6,764.1C426.75,765.62 430.83,766.97 436.2,768.3C441.57,769.63 452.53,771.45 455.8,772.08"/>
<path d="M421.5,750.1C421.73,749.28 421.97,746.3 422.9,745.2C423.83,744.1 425.58,743.64 427.1,743.52C428.62,743.4 427.22,742.31 432,744.5C436.78,746.69 451.83,754.65 455.8,756.68"/>
<path d="M421.5,750.1C421.73,750.92 421.85,753.48 422.9,755C423.95,756.52 424.42,757.33 427.8,759.2C431.18,761.07 438.53,764.1 443.2,766.2C447.87,768.3 453.7,770.87 455.8,771.8"/>
<path d="M458.6,755.7C458.55,752.78 457.62,741.93 458.32,738.2C459.02,734.47 460.65,734.58 462.8,733.3C464.95,732.02 468.63,730.62 471.2,730.5C473.76,730.38 476.45,730.85 478.2,732.6C479.95,734.35 481.23,738.43 481.7,741C482.16,743.57 482,745.71 481,748C479.99,750.29 477.78,753.09 475.68,754.72C473.58,756.35 470.9,756.82 468.4,757.8C465.9,758.78 462.45,759.43 460.7,760.6C458.95,761.77 458.44,762.7 457.9,764.8C457.36,766.9 457.13,770.87 457.48,773.2C457.83,775.53 458.65,777.05 460,778.8C461.35,780.55 463.27,782.42 465.6,783.7C467.93,784.98 471.43,785.45 474,786.5C476.56,787.55 478.2,789.07 481,790C483.8,790.93 489.16,791.75 490.8,792.1"/>
<path d="M460.7,732.88C462.45,732.32 468.05,729.68 471.2,729.52C474.35,729.36 477.61,729.99 479.6,731.9C481.58,733.81 482.63,738.2 483.1,741C483.56,743.8 483.45,746.25 482.4,748.7C481.35,751.15 479.13,753.95 476.8,755.7C474.46,757.45 470.85,758.15 468.4,759.2C465.95,760.25 463.62,760.83 462.1,762C460.58,763.17 459.84,764.33 459.3,766.2C458.76,768.07 458.53,770.98 458.88,773.2C459.23,775.42 459.81,777.63 461.4,779.5C462.99,781.37 466.07,783.12 468.4,784.4C470.73,785.68 474.23,786.73 475.4,787.2"/>
<path d="M465.6,769.28C466.07,768.58 467,765.94 468.4,765.08C469.8,764.22 469.33,762.47 474,764.1C478.66,765.73 492.66,773.08 496.4,774.88"/>
<path d="M465.6,769.28C465.83,770.21 465.6,773.25 467,774.88C468.4,776.51 469.45,776.98 474,779.08C478.55,781.18 490.91,786.08 494.3,787.48"/>
<ellipse cx="495.7" cy="781.6" rx="3.92" ry="5.6" transform="rotate(-15 495.7 781.6)"/>
<path d="M474,781.6C474.11,782.53 473.76,785.75 474.7,787.2C475.63,788.65 477.38,789.53 479.6,790.28C481.81,791.03 486.6,791.45 488,791.68"/>
<path d="M481,766.2C482.16,765.38 485.43,762.23 488,761.3C490.56,760.37 494.3,760.02 496.4,760.6C498.5,761.18 499.66,763.17 500.6,764.8C501.53,766.43 502,768.72 502,770.4C502,772.08 500.83,774.13 500.6,774.88"/>
<path d="M499.2,777.4C500.36,777.17 503.86,775.07 506.2,776C508.53,776.93 511.45,780.43 513.2,783C514.95,785.57 516.46,788.83 516.7,791.4C516.93,793.97 515.88,796.65 514.6,798.4C513.31,800.15 511.1,801.67 509,801.9C506.9,802.13 504.56,801.32 502,799.8C499.43,798.28 495,793.97 493.6,792.8"/>
<path d="M506.2,778.8L497.8,794.2"/>
<path d="M492.9,742.4C493.01,744.03 492.97,749.28 493.6,752.2C494.23,755.12 496.16,758.62 496.68,759.9"/>
<path d="M383.2,620.2C383.32,618.57 383.2,612.92 383.9,610.4C384.6,607.88 385.88,606.36 387.4,605.08C388.92,603.8 390.2,603.21 393,602.7C395.8,602.19 400.47,602.16 404.2,602C407.93,601.84 413.53,601.77 415.4,601.72"/>
<path d="M415.4,601.72L428,613.2"/>
<path d="M383.2,620.2C383.32,622.3 383.55,628.37 383.9,632.8C384.25,637.23 385.07,644.46 385.3,646.8"/>
<path d="M439.2,616C437.33,615.53 433.36,614.18 428,613.2C422.63,612.22 412.37,610.77 407,610.12C401.63,609.47 398.6,609.12 395.8,609.28C393,609.44 391.48,609.98 390.2,611.1C388.92,612.22 388.22,614.02 388.1,616C387.98,617.98 388.22,620.78 389.5,623C390.78,625.22 392.65,627.2 395.8,629.3C398.95,631.4 404.2,633.97 408.4,635.6C412.6,637.23 416.91,638.17 421,639.1C425.08,640.03 430.91,640.85 432.9,641.2"/>
<path d="M414,628.6C414.46,628.48 413.3,627.67 416.8,627.9C420.3,628.13 431.96,629.65 435,630"/>
<path d="M414,628.6C414.23,629.3 414,631.4 415.4,632.8C416.8,634.2 419.36,635.72 422.4,637C425.43,638.28 431.73,639.92 433.6,640.5"/>
<path d="M435,638.4C435.11,635.83 434.76,626.38 435.7,623C436.63,619.62 438.61,619.03 440.6,618.1C442.58,617.17 445.85,616.82 447.6,617.4C449.35,617.98 450.4,619.5 451.1,621.6C451.8,623.7 452.03,627.2 451.8,630C451.56,632.8 450.35,636.3 449.7,638.4C449.04,640.5 448.18,641.9 447.88,642.6"/>
<ellipse cx="442.7" cy="628.6" rx="4.2" ry="5.88" transform="rotate(0 442.7 628.6)"/>
<ellipse cx="443.68" cy="629.58" rx="2.8" ry="4.2" transform="rotate(0 443.68 629.58)"/>
<path d="M437.1,637.84L447.88,637.84"/>
<path d="M385.3,648.9L419.6,645.68L440.6,644.28"/>
<path d="M386,646.8L456,643.44"/>
<path d="M385.3,646.8L385.3,648.9"/>
<path d="M349.6,627.2C351,626.85 353.33,625.92 358,625.1C362.67,624.28 373.4,623.12 377.6,622.3C381.8,621.48 382.27,620.55 383.2,620.2"/>
<path d="M351,629.58C353.1,629.65 359.4,629.88 363.6,630C367.8,630.12 373.75,630.51 376.2,630.28C378.65,630.05 377.95,628.88 378.3,628.6"/>
<path d="M378.3,628.6L384.6,646.8"/>
<path d="M351,629.58L349.6,627.2"/>
<path d="M352.4,630L390.48,661.08"/>
<ellipse cx="357.3" cy="645.4" rx="9.8" ry="8.96" transform="rotate(0 357.3 645.4)"/>
<path d="M347.5,646.8C347.85,645.63 348.08,641.67 349.6,639.8C351.12,637.93 354.15,635.95 356.6,635.6C359.05,635.25 362.62,636.65 364.3,637.7C365.98,638.75 366.28,641.2 366.68,641.9"/>
<ellipse cx="398.6" cy="664.3" rx="9.8" ry="8.96" transform="rotate(0 398.6 664.3)"/>
<path d="M388.8,665.7C389.15,664.53 389.38,660.56 390.9,658.7C392.42,656.83 395.45,654.85 397.9,654.5C400.35,654.15 403.92,655.55 405.6,656.6C407.28,657.65 407.58,660.1 407.98,660.8"/>
<path d="M334.9,637L349.6,637"/>
<path d="M339.8,637.7L348.2,644"/>
<path d="M330,644L348.2,644.7"/>
<path d="M366.4,647.5L385.3,647.5"/>
<path d="M342.6,606.2C343.77,606.2 347.5,606.25 349.6,606.2C351.7,606.15 353.8,604.99 355.2,605.92C356.6,606.85 357.07,610 358,611.8C358.93,613.6 359.98,616.47 360.8,616.7C361.62,616.93 362.43,614.95 362.9,613.2C363.37,611.45 362.55,607.65 363.6,606.2C364.65,604.75 367.57,604.71 369.2,604.52C370.83,604.33 372.23,604.57 373.4,605.08C374.57,605.59 375.38,606.76 376.2,607.6C377.02,608.44 377.95,609.7 378.3,610.12"/>
<path d="M216.5,556L186.6,654"/>
<path d="M265,539C264,540.5 260.42,544.5 259,548C257.58,551.5 257,556 256.5,560C256,564 256.67,568.33 256,572C255.33,575.67 253.53,579 252.5,582C251.47,585 250.8,587 249.8,590C248.8,593 247.5,597 246.5,600C245.5,603 245.05,605.45 243.8,608C242.55,610.55 239.9,613.08 239,615.3C238.1,617.52 238.2,619.5 238.4,621.3C238.6,623.1 240.1,623.88 240.2,626.1C240.3,628.32 240.7,628.37 239,634.6C237.3,640.83 231.5,658.68 230,663.5"/>
<path d="M155.84,659.28C157.65,659.22 163.27,659.02 166.69,658.92C170.1,658.82 174.48,659.16 176.33,658.67C178.17,658.19 176.97,657.07 177.77,656.02C178.57,654.98 179.78,653.13 181.14,652.41C182.51,651.69 184.92,651.45 185.96,651.69C187.01,651.93 187.17,653.49 187.41,653.86"/>
<path d="M155.84,659.28C155.74,659.68 154.04,660.38 155.24,661.69C156.45,662.99 159.96,665.1 163.07,667.11C166.18,669.12 170.5,671.63 173.92,673.73C177.33,675.84 181.95,678.76 183.55,679.76"/>
<path d="M183.55,679.76L194.4,673.13L193.8,671.45"/>
<path d="M157.05,661.08L164.28,665.3"/>
<path d="M181.14,663.49L193.8,671.45"/>
<path d="M182.59,676.51L190.78,674.34"/>
<path d="M187.17,654.46C188.17,655.32 190.18,658.03 193.19,659.64C196.2,661.24 201.22,662.89 205.24,664.1C209.26,665.3 213.17,666.61 217.29,666.87C221.41,667.13 227.83,665.86 229.94,665.66"/>
<path d="M188.37,662.29C190.18,663.13 195.4,665.98 199.22,667.35C203.03,668.71 206.45,669.72 211.27,670.48C216.08,671.24 225.32,671.69 228.13,671.93"/>
<path d="M191.39,675.78C193.69,676.65 200.92,679.7 205.24,680.96C209.56,682.23 213.67,683.07 217.29,683.37C220.9,683.67 224.92,683.47 226.93,682.77C228.94,682.07 228.53,681.77 229.34,679.16C230.14,676.55 231.65,669.72 231.75,667.11C231.85,664.5 230.24,664.1 229.94,663.49"/>
<path d="M500.56,371.83L523.1,361.41"/>
<path d="M523.1,361.41C524.15,361.82 527.44,362.93 529.44,363.87C531.43,364.81 533.6,365.99 535.07,367.04C536.54,368.1 537.54,369.21 538.24,370.21C538.94,371.21 539.12,372.56 539.3,373.03"/>
<path d="M500.56,371.97C501.85,372.15 505.85,372.68 508.31,373.03C510.77,373.38 513.24,373.62 515.35,374.08C517.46,374.55 520.05,375.55 520.99,375.85"/>
<path d="M520.99,375.85C521.34,376.14 522.61,376.84 523.1,377.61C523.59,378.37 523.77,379.25 523.94,380.42C524.12,381.6 524.12,383.94 524.15,384.65"/>
<path d="M524.51,378.45L539.3,372.82"/>
<path d="M524.51,373.52L535.07,369.15"/>
<ellipse cx="520.63" cy="369.86" rx="3.66" ry="1.83" transform="rotate(0 520.63 369.86)"/>
<path d="M522.25,377.25C522.3,379.07 522.42,384.47 522.54,388.17C522.65,391.87 522.63,396.95 522.96,399.44C523.29,401.92 523.78,402.25 524.51,403.1C525.23,403.94 526.27,404.51 527.32,404.51C528.38,404.51 529.65,403.94 530.85,403.1C532.04,402.25 533.9,400.05 534.51,399.44"/>
<path d="M523.8,378.45C523.85,380.07 523.97,384.67 524.08,388.17C524.2,391.67 524.44,397.56 524.51,399.44"/>
<path d="M539.3,373.03L540,386.76"/>
<path d="M500.56,371.97C499.86,372.79 497.37,375.14 496.34,376.9C495.31,378.66 494.48,380.66 494.37,382.54C494.25,384.41 494.6,386.17 495.63,388.17C496.67,390.16 498.8,392.16 500.56,394.51C502.32,396.85 505.26,400.96 506.2,402.25"/>
<ellipse cx="504.08" cy="380.42" rx="3.87" ry="6.48" transform="rotate(20 504.08 380.42)"/>
<path d="M572.41,354.94C574.12,353.94 577.33,351.43 582.65,348.92C587.97,346.41 597.11,342.93 604.34,339.88C611.57,336.83 621.71,332.23 626.02,330.6C630.34,328.98 629.4,329.98 630.24,330.12C631.08,330.26 630.94,331.22 631.08,331.45"/>
<path d="M631.08,331.45C630.64,332.55 629.28,335.96 628.43,338.07C627.59,340.18 627.03,341.29 626.02,344.1C625.02,346.91 623.41,352.03 622.41,354.94C621.41,357.85 621,359.86 620,361.57C619,363.27 617.79,364.28 616.39,365.18C614.98,366.08 613.17,366.45 611.57,366.99C609.96,367.53 608.15,367.79 606.75,368.43C605.34,369.08 603.94,370.08 603.13,370.84C602.33,371.61 602.13,372.65 601.93,373.01"/>
<path d="M601.93,373.01L574.22,388.67L545.9,406.14"/>
<path d="M600.48,371.08L574.22,386.51L546.75,403.13"/>
<path d="M573.01,356.14C574.82,355.1 578.63,352.29 583.86,349.88C589.08,347.47 596.91,344.7 604.34,341.69C611.77,338.67 624.42,333.45 628.43,331.81"/>
<path d="M535.06,400.12C536.57,397.71 540.58,390.48 544.1,385.66C547.61,380.84 552.53,375.28 556.14,371.2C559.76,367.13 563.07,363.92 565.78,361.2C568.49,358.49 571.31,355.98 572.41,354.94"/>
<path d="M537.47,397.35C538.98,395.1 543.55,387.91 546.51,383.86C549.46,379.8 553.73,374.82 555.18,373.01"/>
<path d="M545.9,406.14C545.6,406.2 545.2,406.77 544.1,406.51C542.99,406.24 540.64,405.3 539.28,404.58C537.91,403.86 536.55,402.97 535.9,402.17C535.26,401.37 535.06,400.4 535.42,399.76C535.78,399.12 537.03,398.45 538.07,398.31C539.12,398.17 540.58,398.21 541.69,398.92C542.79,399.62 544,401.33 544.7,402.53C545.4,403.73 545.7,405.54 545.9,406.14"/>
<ellipse cx="615.18" cy="356.14" rx="5.06" ry="5.42" transform="rotate(0 615.18 356.14)"/>
<ellipse cx="616.39" cy="357.11" rx="3.37" ry="3.98" transform="rotate(0 616.39 357.11)"/>
<path d="M533.25,404.34L532.65,409.16"/>
<path d="M679.6,290.24C680.4,290.08 682.2,289.72 684.4,289.28C686.6,288.84 691.4,287.88 692.8,287.6"/>
<path d="M710.8,283.76L724,280.64"/>
<path d="M688.6,281.84C688.9,281.2 689.1,279.14 690.4,278C691.7,276.86 694.2,275.5 696.4,275C698.6,274.5 701.7,274.5 703.6,275C705.5,275.5 706.4,276.8 707.8,278C709.2,279.2 711.2,280.84 712,282.2C712.8,283.56 712.5,285.5 712.6,286.16"/>
<path d="M688.6,281.84C689.1,281.56 690.3,279.7 691.6,280.16C692.9,280.62 695.4,283.4 696.4,284.6C697.4,285.8 697.56,286.42 697.6,287.36C697.64,288.3 696.8,289.76 696.64,290.24"/>
<path d="M696.64,290.24C697,290.1 697.64,289.94 698.8,289.4C699.96,288.86 701.6,287.84 703.6,287C705.6,286.16 709.4,284.62 710.8,284.36C712.2,284.1 711.7,285.14 712,285.44C712.3,285.74 712.5,286.04 712.6,286.16"/>
<path d="M691.6,280.16L697,284.6"/>
<path d="M698.8,278.6C699,278.82 699.56,279.92 700,279.92C700.44,279.92 701.2,278.82 701.44,278.6"/>
<path d="M680,316.6C681.33,316.17 683.67,315.03 688,314C692.33,312.97 700,311.8 706,310.4C712,309 719,307.4 724,305.6C729,303.8 731.33,301.2 736,299.6C740.67,298 749.33,296.6 752,296"/>
<path d="M418.4,553.6L434,532.4L436.4,534L419.2,562.8"/>
<path d="M491.6,644.8L491.6,703.8"/>
<path d="M500,643C499.58,644 498.27,646.87 497.5,649C496.73,651.13 495.82,652.3 495.4,655.8C494.98,659.3 495.07,661.8 495,670C494.93,678.2 495,699.17 495,705"/>
<path d="M492.2,720.4L492.2,742"/>
<path d="M495.6,720.4C495.6,723.33 496.1,734.43 495.6,738C495.1,741.57 493.1,741.17 492.6,741.8"/>
<path d="M490.5,702.7C488.98,701.85 483.87,698.17 481.4,697.6C478.93,697.03 477.22,698.25 475.7,699.3C474.18,700.35 472.78,701.82 472.3,703.9C471.82,705.98 472.05,709.92 472.8,711.8C473.55,713.68 474.62,714.17 476.8,715.2C478.98,716.23 484.38,717.53 485.9,718"/>
<path d="M490.5,702.7C489.92,703 487.95,703.17 487,704.5C486.05,705.83 484.97,708.72 484.8,710.7C484.63,712.68 485.25,714.88 486,716.4C486.75,717.92 488.18,719.15 489.3,719.8C490.42,720.45 492.13,720.22 492.7,720.3"/>
<path d="M490.5,702.7L495,705"/>
<ellipse cx="496.1" cy="713.5" rx="5.6" ry="7.1" transform="rotate(0 496.1 713.5)"/>
<ellipse cx="496.4" cy="713.8" rx="3.6" ry="5.2" transform="rotate(0 496.4 713.8)"/>
<path d="M217,483.2L224.6,486.8L221,493.2L215,491.2Z"/>
<path d="M218.8,485.4L222.8,487.4L220.4,491.6L217,490.2Z"/>
<path d="M232.6,500.4L239.4,504.4L237,510L228.6,507.6Z"/>
<path d="M233.6,502.6L237.6,505L235.8,508.6L231,507.2Z"/>
<ellipse cx="223" cy="499.3" rx="3.4" ry="7.2" transform="rotate(28 223 499.3)"/>
<path d="M227.4,493.2C227.67,493.58 228.67,494.87 229,495.5C229.33,496.13 229.33,496.75 229.4,497"/>
<text x="795.3" y="52.3" font-size="13.5">2</text>
<text x="710" y="67.8" font-size="13.5">3</text>
<path d="M554.3,289.3L554.3,280.4L551.6,282.2" style="fill:none;stroke:#1a1a1a;stroke-width:1.45;stroke-linejoin:miter;stroke-linecap:butt"/>
<path d="M299.35,831.63L309.53,815.40L311.18,816.50L311.45,817.88L330.70,807.43L332.46,808.14L332.46,821.45L311.73,833.00L311.18,837.95Z" style="fill:#111;stroke:#111;stroke-width:0.6"/>
<path d="M300.45,830.80L309.53,816.78" style="stroke:#fff;stroke-width:0.7"/>
<path d="M312.00,817.71L330.70,808.14" style="stroke:#fff;stroke-width:0.7;stroke-dasharray:1 0.6"/>
<g transform="translate(311.18 830.80) matrix(1,-0.5,0,1,0,0) scale(0.68 1)"><text x="0" y="0" style="font-size:13.5px;fill:none;stroke:#fff;stroke-width:0.9;font-family:'Liberation Sans',sans-serif">FWD</text></g>
<path transform="translate(358.00 645.70) rotate(80) scale(0.95)" d="M3.5,-2.2C3.3,-3.2 2.3,-4.6 1.1,-4.9C0.1,-5 -1.5,-4.6 -2.7,-1.4C-3.4,0.5 -3.5,2.6 -2.5,3.8C-1.9,4.5 -1.2,4.7 -0.8,4.6M-2.4,1.7C-1.5,0.8 0,-1.5 0.8,-3.4" style="fill:none;stroke:#333;stroke-width:1.05"/>
<path transform="translate(399.50 664.50) rotate(80) scale(0.95)" d="M3.5,-2.2C3.3,-3.2 2.3,-4.6 1.1,-4.9C0.1,-5 -1.5,-4.6 -2.7,-1.4C-3.4,0.5 -3.5,2.6 -2.5,3.8C-1.9,4.5 -1.2,4.7 -0.8,4.6M-2.4,1.7C-1.5,0.8 0,-1.5 0.8,-3.4" style="fill:none;stroke:#333;stroke-width:1.05"/>
<path transform="translate(426.20 725.60) rotate(0) scale(1.00)" d="M3.5,-2.2C3.3,-3.2 2.3,-4.6 1.1,-4.9C0.1,-5 -1.5,-4.6 -2.7,-1.4C-3.4,0.5 -3.5,2.6 -2.5,3.8C-1.9,4.5 -1.2,4.7 -0.8,4.6M-2.4,1.7C-1.5,0.8 0,-1.5 0.8,-3.4" style="fill:none;stroke:#333;stroke-width:1.00"/>
<path transform="translate(468.60 743.50) rotate(0) scale(1.00)" d="M3.5,-2.2C3.3,-3.2 2.3,-4.6 1.1,-4.9C0.1,-5 -1.5,-4.6 -2.7,-1.4C-3.4,0.5 -3.5,2.6 -2.5,3.8C-1.9,4.5 -1.2,4.7 -0.8,4.6M-2.4,1.7C-1.5,0.8 0,-1.5 0.8,-3.4" style="fill:none;stroke:#333;stroke-width:1.00"/>
<path transform="translate(495.90 713.20) rotate(0) scale(0.85)" d="M3.5,-2.2C3.3,-3.2 2.3,-4.6 1.1,-4.9C0.1,-5 -1.5,-4.6 -2.7,-1.4C-3.4,0.5 -3.5,2.6 -2.5,3.8C-1.9,4.5 -1.2,4.7 -0.8,4.6M-2.4,1.7C-1.5,0.8 0,-1.5 0.8,-3.4" style="fill:none;stroke:#333;stroke-width:1.18"/>
<path transform="translate(495.80 781.50) rotate(0) scale(0.80)" d="M3.5,-2.2C3.3,-3.2 2.3,-4.6 1.1,-4.9C0.1,-5 -1.5,-4.6 -2.7,-1.4C-3.4,0.5 -3.5,2.6 -2.5,3.8C-1.9,4.5 -1.2,4.7 -0.8,4.6M-2.4,1.7C-1.5,0.8 0,-1.5 0.8,-3.4" style="fill:none;stroke:#333;stroke-width:1.25"/>
<path transform="translate(509.30 793.00) rotate(0) scale(0.90)" d="M3.5,-2.2C3.3,-3.2 2.3,-4.6 1.1,-4.9C0.1,-5 -1.5,-4.6 -2.7,-1.4C-3.4,0.5 -3.5,2.6 -2.5,3.8C-1.9,4.5 -1.2,4.7 -0.8,4.6M-2.4,1.7C-1.5,0.8 0,-1.5 0.8,-3.4" style="fill:none;stroke:#333;stroke-width:1.11"/>
<path transform="translate(407.00 576.80) rotate(0) scale(0.95)" d="M3.5,-2.2C3.3,-3.2 2.3,-4.6 1.1,-4.9C0.1,-5 -1.5,-4.6 -2.7,-1.4C-3.4,0.5 -3.5,2.6 -2.5,3.8C-1.9,4.5 -1.2,4.7 -0.8,4.6M-2.4,1.7C-1.5,0.8 0,-1.5 0.8,-3.4" style="fill:none;stroke:#333;stroke-width:1.05"/>
</svg>
</body></html>
